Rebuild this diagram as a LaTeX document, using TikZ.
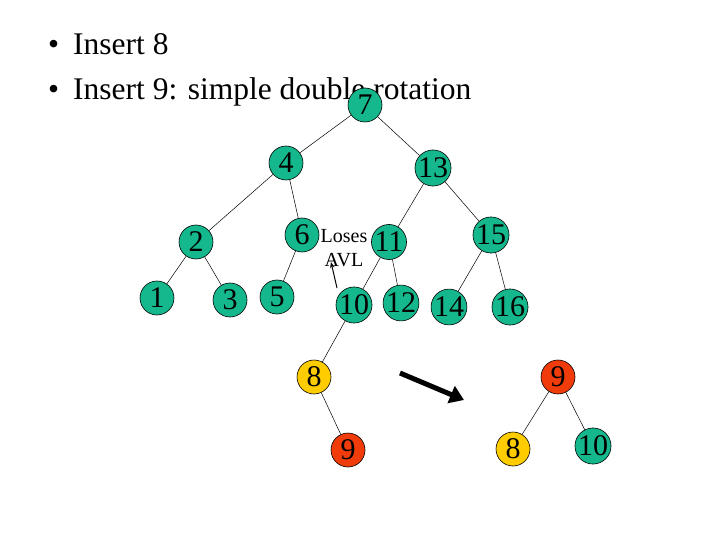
\documentclass[tikz,border=0pt]{standalone}
\usepackage{fontspec}
\setmainfont{Liberation Serif}
\usetikzlibrary{arrows.meta}
\begin{document}
\begin{tikzpicture}[x=1pt,y=-1pt,
 nd/.style={circle,draw,line width=0.6pt,fill=grn,minimum size=34pt,inner sep=0pt,font=\fontsize{30}{30}\selectfont},
 yl/.style={nd,fill=ylw}, rd/.style={nd,fill=red1},
 ed/.style={line width=0.5pt}]
\definecolor{grn}{HTML}{14B88C}
\definecolor{ylw}{HTML}{FFCC00}
\definecolor{red1}{HTML}{F03C0A}
\useasboundingbox (0,0) rectangle (720,540);
\node[anchor=base west,inner sep=0pt,font=\fontsize{31.5}{31.5}\selectfont] (b1) at (48,55) {•\hspace{14pt}Insert 8};
\node[anchor=base west,inner sep=0pt,font=\fontsize{31.5}{31.5}\selectfont] (b2) at (48,100) {•\hspace{14pt}Insert 9: simple double rotation};
\node[nd] (n7) at (365,105) {7};
\node[nd] (n4) at (286,163) {4};
\node[nd] (n13) at (433,168) {13};
\node[nd] (n2) at (196,242) {2};
\node[nd] (n6) at (302,235) {6};
\node[nd] (n11) at (389,242) {11};
\node[nd] (n15) at (491,235) {15};
\node[nd] (n1) at (157,298) {1};
\node[nd] (n3) at (230,300) {3};
\node[nd] (n5) at (277,297) {5};
\node[nd] (n10) at (354,305) {10};
\node[nd] (n12) at (401,303) {12};
\node[nd] (n14) at (449,307) {14};
\node[nd] (n16) at (510,307) {16};
\node[yl] (a8) at (314,377) {8};
\node[rd] (a9) at (348,450) {9};
\node[rd] (b9) at (558,377) {9};
\node[yl] (b8) at (513,449) {8};
\node[nd] (b10) at (593,446) {10};
\node[font=\fontsize{20}{24}\selectfont,align=center] (lbl) at (344,248) {Loses\\AVL};
\draw[ed] (n7)--(n4) (n7)--(n13) (n4)--(n2) (n4)--(n6) (n2)--(n1) (n2)--(n3) (n6)--(n5)
 (n13)--(n11) (n13)--(n15) (n11)--(n10) (n11)--(n12) (n15)--(n14) (n15)--(n16)
 (n10)--(a8) (a8)--(a9) (b9)--(b8) (b9)--(b10);
\coordinate (s1) at (337,288); \coordinate (s2) at (331,262);
\draw[line width=1pt,-{Stealth[length=6pt]}] (s1)--(s2);
\coordinate (t1) at (400,373); \coordinate (t2) at (464,400);
\draw[line width=5pt,-{Triangle[length=14pt,width=18pt]}] (t1)--(t2);
\end{tikzpicture}
\end{document}
